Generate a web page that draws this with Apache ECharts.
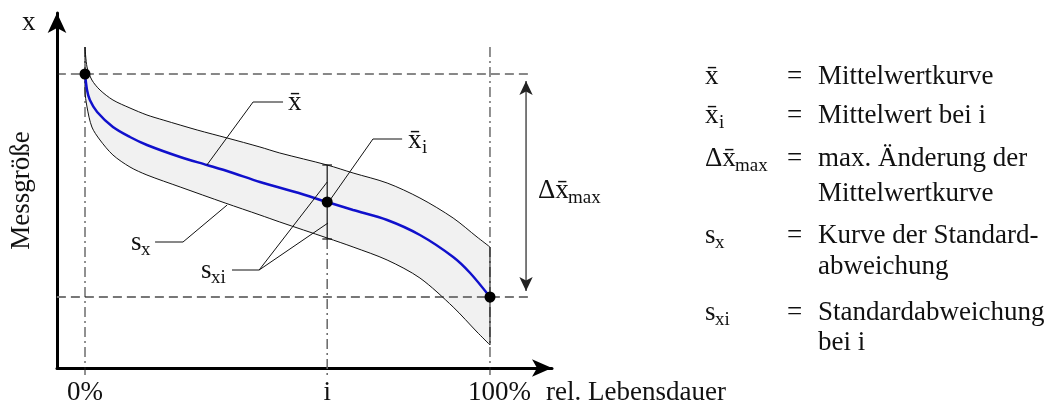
<!DOCTYPE html>
<html>
<head>
<meta charset="utf-8">
<script src="https://cdn.jsdelivr.net/npm/echarts@6/dist/echarts.min.js"></script>
<style>
html,body{margin:0;padding:0;background:#fff;}
#chart{width:1055px;height:403px;}
</style>
</head>
<body>
<div id="chart"></div>
<script>
const FONT='"Liberation Serif", "Times New Roman", serif';

// x: rel. Lebensdauer in %, y: Messgröße (arbitrary units)
const tickValues=[0,59.8,100];
const tickLabels=['0%','i','100%'];
const meanCurve=[[0,294],[0.5,278],[1.2,268],[3,256],[6.9,241],[11.1,231],[15.3,223],[23.5,211],[30.1,203],[35.8,196],[43.2,186],[51.9,176],[59.8,166],[66.2,158],[74.6,148],[82.7,133],[90.9,111],[95.1,95],[100,71]];
const upperCurve=[[0,321],[0.5,301],[1.7,288],[3.7,278],[6.9,268],[11.1,260],[15.3,253],[19.3,248],[27.7,238],[35.1,230],[43.2,221],[48.1,215],[59.8,203],[66.2,195],[74.6,185],[82.7,170],[90.9,150],[96.8,131],[100,121]];
const lowerCurve=[[0,321],[0,278],[0.5,261],[1.7,241],[3.7,228],[6.9,213],[11.1,201],[15.3,193],[23.5,181],[34.6,165],[43.2,153],[48.1,146],[59.8,130],[66.2,121],[74.6,108],[82.7,90],[90.9,61],[96.8,36],[100,23]];
const keyPoints=[[0,294],[59.8,166],[100,71]];
const errorBar=[[59.8,129],[59.8,203]];
const errorCaps=[[[58.6,203],[61,203]],[[58.6,129],[61,129]]];
const levelLines=[[[-10.4,294],[110.4,294]],[[-10.4,71],[110.4,71]]];
const dashDotLines=[[[0,321],[0,-7]],[[100,321],[100,-7]]];
const iLine=[[59.8,129],[59.8,-7]];
const deltaArrow=[[108.9,287],[108.9,77]];
const leaders=[
  [[30.1,203],[41.5,266],[48.9,266]],
  [[60.5,168],[71.1,229],[78.3,229]],
  [[35.1,163],[24.2,126],[17.3,126]],
  [[59.8,186],[43,98],[36.3,98]],
  [[43,98],[60,145]]
];

function path(data,color,width,type,z){
  return {type:'line',data:data,symbol:'none',showSymbol:false,clip:false,silent:true,z:z,
    animation:false,lineStyle:{color:color,width:width,type:type||'solid'},emphasis:{disabled:true}};
}
function txt(s,x,base,size){
  size=size||27;
  return {type:'text',x:x,y:base-0.305*size,silent:true,
    style:{text:s,font:size+'px '+FONT,fill:'#111',align:'left',verticalAlign:'middle'}};
}

const series=[];
series.push({type:'custom',silent:true,z:1,clip:false,data:[[0,0]],
  renderItem:function(params,api){
    const pts=upperCurve.concat(lowerCurve.slice().reverse()).map(p=>api.coord(p));
    return {type:'polygon',shape:{points:pts},style:{fill:'#f1f1f1',stroke:null}};
  }});
series.push(path(levelLines[0],'#111',1,[9,5],2));
series.push(path(levelLines[1],'#777',1.8,[9,5],2));
dashDotLines.forEach(l=>series.push(path(l,'#222',1,[10,4,2,4],2)));
series.push(path(iLine,'#666',1.5,[10,4,2,4],2));
series.push(Object.assign(path(upperCurve,'#111',1,'solid',3),{smooth:0.3}));
series.push(Object.assign(path(lowerCurve,'#111',1,'solid',3),{smooth:0.3}));
series.push(path([upperCurve[upperCurve.length-1],lowerCurve[lowerCurve.length-1]],'#111',1,'solid',3));
series.push(path(errorBar,'#111',1.2,'solid',3));
errorCaps.forEach(c=>series.push(path(c,'#111',1.2,'solid',3)));
series.push(Object.assign(path(meanCurve,'#1010cc',2.5,'solid',4),{smooth:0.3}));
leaders.forEach(l=>series.push(path(l,'#111',1,'solid',5)));
series.push({type:'line',data:[
    {value:deltaArrow[0],symbol:'arrow',symbolRotate:0},
    {value:deltaArrow[1],symbol:'arrow',symbolRotate:180}],
  symbolSize:[10,14],showSymbol:true,clip:false,silent:true,z:5,
  itemStyle:{color:'#222',opacity:1},lineStyle:{color:'#222',width:1.2},emphasis:{disabled:true}});
series.push({type:'scatter',data:keyPoints,symbol:'circle',symbolSize:11,silent:true,z:6,
  itemStyle:{color:'#000',opacity:1,borderWidth:0},emphasis:{disabled:true}});

const graphic=[
  txt('x',22,31),
  txt('x\u0304',288,111),
  txt('x\u0304',408,149), txt('i',422,154,19),
  txt('s',131,251), txt('x',141,256,19),
  txt('s',201,279), txt('xi',211,284,19),
  txt('\u0394x\u0304',538,199), txt('max',568,204,19),
  txt('rel. Lebensdauer',546,401),

  txt('x\u0304',705,85), txt('=',787,85), txt('Mittelwertkurve',818,85),
  txt('x\u0304',705,124), txt('i',719,129,19), txt('=',787,124), txt('Mittelwert bei i',818,124),
  txt('\u0394x\u0304',705,167), txt('max',735,172,19), txt('=',787,167),
  txt('max. \u00c4nderung der',818,167), txt('Mittelwertkurve',818,202),
  txt('s',705,244), txt('x',715,249,19), txt('=',787,244),
  txt('Kurve der Standard-',818,244), txt('abweichung',818,275),
  txt('s',705,321), txt('xi',715,326,19), txt('=',787,321),
  txt('Standardabweichung',818,321), txt('bei i',818,351)
];

const chart=echarts.init(document.getElementById('chart'),null,{renderer:'canvas'});
chart.setOption({
  animation:false,
  grid:{left:57,right:503,top:13,bottom:35,containLabel:false,outerBoundsMode:'none'},
  xAxis:{type:'value',min:-6.914,max:115.31,
    axisLine:{onZero:false,symbol:['none','arrow'],symbolSize:[13,20],lineStyle:{color:'#000',width:3}},
    axisTick:{show:false},splitLine:{show:false},
    axisLabel:{customValues:tickValues,margin:11,color:'#111',fontFamily:FONT,fontSize:27,
      formatter:function(v){const k=tickValues.indexOf(v);return k===2?'{r|'+tickLabels[k]+'}':tickLabels[k];},
      rich:{r:{fontFamily:FONT,fontSize:27,color:'#111',padding:[0,0,0,19]}}}},
  yAxis:{type:'value',min:0,max:355,name:'Messgr\u00f6\u00dfe',nameLocation:'middle',nameRotate:90,nameGap:22,
    nameTextStyle:{fontFamily:FONT,fontSize:27,color:'#111'},
    axisLine:{onZero:false,symbol:['none','arrow'],symbolSize:[14,20],lineStyle:{color:'#000',width:3}},
    axisTick:{show:false},axisLabel:{show:false},splitLine:{show:false}},
  series:series,
  graphic:graphic
});
</script>
</body>
</html>
